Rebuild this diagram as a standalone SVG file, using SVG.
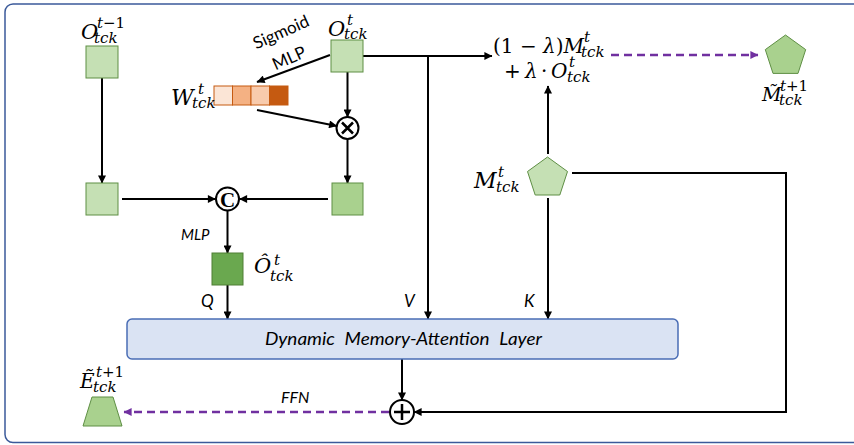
<svg xmlns="http://www.w3.org/2000/svg" width="854" height="445" viewBox="0 0 854 445">
<defs>
<marker id="ah" viewBox="0 0 10 10" refX="9.5" refY="5" markerWidth="9" markerHeight="8" markerUnits="userSpaceOnUse" orient="auto"><path d="M0,0 L10,5 L0,10 z" fill="#000"/></marker>
<marker id="ahp" viewBox="0 0 10 10" refX="9.5" refY="5" markerWidth="9" markerHeight="8" markerUnits="userSpaceOnUse" orient="auto"><path d="M0,0 L10,5 L0,10 z" fill="#7030a0"/></marker>
</defs>
<style>
.ar{fill:none;stroke:#000;stroke-width:2;marker-end:url(#ah)}
.dp{fill:none;stroke:#7030a0;stroke-width:2.5;stroke-dasharray:8 5;marker-end:url(#ahp)}
.lg{fill:#c5e0b4;stroke:#5f8f45;stroke-width:1}
.mg{fill:#a9d18e;stroke:#5f8f45;stroke-width:1}
.dg{fill:#6aa84f;stroke:#4f7f34;stroke-width:1}
.op{fill:#fff;stroke:#000;stroke-width:2}
.m{font-family:"DejaVu Serif",serif;font-style:italic;fill:#000;font-size:21px}
.u{font-style:normal}
.sc{font-size:15px}
.s{font-family:Lato,"Liberation Sans",sans-serif;fill:#000}
.si{font-family:Lato,"Liberation Sans",sans-serif;font-style:italic;fill:#000}
</style>
<path d="M905,4 H13 A8 8 0 0 0 5 12 V434.5 A8 8 0 0 0 13 442.5 H905" fill="#fff" stroke="#3b5a9a" stroke-width="1.5"/>

<g id="connectors">
<line class="ar" x1="102" y1="78" x2="102" y2="183"/>
<line class="ar" x1="330" y1="55" x2="257" y2="82"/>
<line class="ar" x1="257" y1="110" x2="336.7" y2="125.9"/>
<line class="ar" x1="347.5" y1="72" x2="347.5" y2="117"/>
<line class="ar" x1="347.5" y1="139" x2="347.5" y2="183"/>
<line class="ar" x1="122" y1="199" x2="215.5" y2="199"/>
<line class="ar" x1="328" y1="199" x2="239.5" y2="199"/>
<line class="ar" x1="227.5" y1="211" x2="227.5" y2="253"/>
<line class="ar" x1="227.5" y1="285" x2="227.5" y2="319"/>
<line class="ar" x1="363" y1="56" x2="492" y2="56"/>
<line class="ar" x1="428" y1="56" x2="428" y2="319"/>
<line class="ar" x1="548" y1="154" x2="548" y2="86"/>
<line class="ar" x1="548" y1="198" x2="548" y2="319"/>
<polyline class="ar" points="572,173 786,173 786,412 414,412"/>
<line class="ar" x1="402" y1="359" x2="402" y2="400"/>
<line class="dp" x1="611" y1="55" x2="758" y2="55"/>
<line class="dp" x1="389" y1="412" x2="124" y2="412"/>
<text class="si" x="201" y="307" font-size="17">Q</text>
<text class="si" x="404" y="307" font-size="17">V</text>
<text class="si" x="524" y="307" font-size="17">K</text>
<text class="si" x="181" y="240" font-size="15">MLP</text>
<text class="si" x="281" y="403" font-size="16">FFN</text>
<text class="s" x="281" y="38" font-size="17" text-anchor="middle" transform="rotate(-24 281 32)">Sigmoid</text>
<text class="s" x="289" y="64" font-size="17" text-anchor="middle" transform="rotate(-24 289 58)">MLP</text>
</g>

<g id="o-prev">
<rect class="lg" x="86" y="46" width="32" height="32"/>
<text class="m"><tspan x="81" y="39">O</tspan><tspan class="sc" x="97" y="28">t<tspan class="u">−1</tspan></tspan><tspan class="sc" x="94" y="43">tck</tspan></text>
</g>

<g id="o-cur">
<rect class="lg" x="331" y="40" width="32" height="32"/>
<text class="m"><tspan x="328" y="36">O</tspan><tspan class="sc" x="347" y="25">t</tspan><tspan class="sc" x="344" y="39">tck</tspan></text>
</g>

<g id="w-vec">
<rect x="214" y="86" width="18.5" height="19" fill="#fbe5d6" stroke="#c55a11" stroke-width="1"/>
<rect x="232.5" y="86" width="18.5" height="19" fill="#f4b183" stroke="#c55a11" stroke-width="1"/>
<rect x="251" y="86" width="18.5" height="19" fill="#f8cbad" stroke="#c55a11" stroke-width="1"/>
<rect x="269.5" y="86" width="18.5" height="19" fill="#c55a11" stroke="#c55a11" stroke-width="1"/>
<text class="m"><tspan x="171" y="105" font-size="22">W</tspan><tspan class="sc" x="198" y="94">t</tspan><tspan class="sc" x="192" y="108">tck</tspan></text>
</g>

<g id="mul">
<circle class="op" cx="347.5" cy="128" r="11"/>
<path d="M342,122.5 L353,133.5 M353,122.5 L342,133.5" stroke="#000" stroke-width="2.5"/>
</g>

<g id="o-left2">
<rect class="lg" x="86" y="183" width="32" height="32"/>
</g>

<g id="o-right2">
<rect class="mg" x="332" y="183" width="31" height="32"/>
</g>

<g id="concat">
<circle class="op" cx="227.5" cy="199" r="11.5"/>
<text x="227.5" y="206.5" font-family="'Liberation Serif',serif" font-weight="bold" font-size="21" text-anchor="middle">C</text>
</g>

<g id="o-hat">
<rect class="dg" x="212" y="253" width="31" height="32"/>
<text class="m"><tspan x="254" y="273">Ô</tspan><tspan class="sc" x="274" y="265">t</tspan><tspan class="sc" x="270" y="281">tck</tspan></text>
</g>

<g id="formula">
<text class="m" font-size="20"><tspan x="493" y="53" style="font-size:20px"><tspan class="u">(1 − </tspan>λ<tspan class="u">)</tspan>M</tspan><tspan class="sc" x="584" y="42">t</tspan><tspan class="sc" x="581" y="57">tck</tspan><tspan class="u" x="504" y="78" style="font-size:20px">+</tspan><tspan x="525" y="78" style="font-size:20px">λ</tspan><tspan class="u" x="541" y="78" style="font-size:20px">·</tspan><tspan x="551" y="78" style="font-size:20px">O</tspan><tspan class="sc" x="569" y="67">t</tspan><tspan class="sc" x="567" y="82">tck</tspan></text>
</g>

<g id="m-next">
<polygon class="mg" points="785.5,35 805.7,49.6 798,73.4 773,73.4 765.3,49.6"/>
<text class="m"><tspan x="762" y="101" style="font-size:19px">M̃</tspan><tspan class="sc" x="780" y="91">t<tspan class="u">+1</tspan></tspan><tspan class="sc" x="779" y="105">tck</tspan></text>
</g>

<g id="m-cur">
<polygon class="lg" points="547.5,157 567.5,171.5 559.8,195 535.2,195 527.5,171.5"/>
<text class="m"><tspan x="474" y="188" style="font-size:22px">M</tspan><tspan class="sc" x="498" y="177">t</tspan><tspan class="sc" x="496" y="192">tck</tspan></text>
</g>

<g id="dma">
<rect x="127" y="319" width="551" height="40" rx="5" fill="#dae3f3" stroke="#4a6db5" stroke-width="1.5"/>
<text class="si" x="265" y="345" font-size="18" textLength="277" lengthAdjust="spacingAndGlyphs" word-spacing="5">Dynamic Memory-Attention Layer</text>
</g>

<g id="add">
<circle class="op" cx="402" cy="412" r="12"/>
<path d="M402,404 V420 M394,412 H410" stroke="#000" stroke-width="2.5"/>
</g>

<g id="e-next">
<polygon class="mg" points="92,397 113,397 122,426 83,426"/>
<text class="m"><tspan x="80" y="388" style="font-size:20px">Ẽ</tspan><tspan class="sc" x="96" y="377">t<tspan class="u">+1</tspan></tspan><tspan class="sc" x="93" y="392">tck</tspan></text>
</g>
</svg>
